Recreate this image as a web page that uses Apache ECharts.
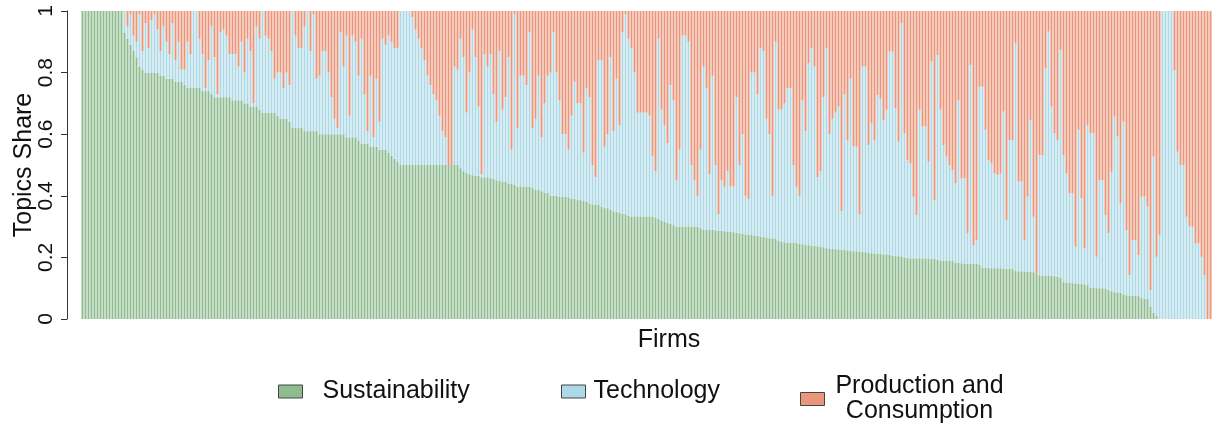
<!DOCTYPE html>
<html>
<head>
<meta charset="utf-8">
<script src="https://cdn.jsdelivr.net/npm/echarts@6/dist/echarts.min.js"></script>
<style>
  html, body { margin: 0; padding: 0; background: #fff; }
  #chart { width: 1213px; height: 423px; }
</style>
</head>
<body>
<div id="chart"></div>
<script>
// share of the Sustainability topic per firm (firms sorted by it)
const sustainability = [
  1,1,1,1,1,1,1,1,1,1,1,1,1,1,
  .93,.91,.89,.87,.85,.82,.81,.80,.80,.80,
  .80,.80,.79,.79,.78,.78,.78,.77,.77,.77,
  .76,.75,.75,.75,.75,.75,.74,.74,.74,.73,
  .72,.72,.72,.72,.72,.72,.71,.71,.71,.71,
  .70,.70,.69,.69,.69,.68,.67,.67,.67,.67,
  .67,.66,.65,.65,.65,.64,.62,.62,.62,
  .62,.61,.61,.61,.61,.61,.60,.60,.60,.60,
  .60,.60,.60,.60,.60,.59,.59,.59,.59,.58,
  .57,.57,.57,.56,.56,.56,.55,.55,.55,
  .54,.53,.52,.51,
  .50,.50,.50,.50,.50,.50,.50,.50,.50,.50,
  .50,.50,.50,.50,.50,.50,.50,.50,.50,.50,
  .49,.48,.475,.47,.467,.465,.465,.46,.46,.46,
  .457,.455,.45,.45,.445,.445,.44,.44,.435,.43,
  .43,.43,.43,.43,.425,.42,.42,.415,.41,.41,
  .40,.40,.40,.397,.397,.397,.395,.39,.39,.386,
  .386,.383,.38,.375,.372,.372,.37,.365,.36,.36,
  .355,.35,.348,.345,.342,.34,.335,.333,.333,.333,
  .333,.333,.333,.333,.333,.33,.325,.32,.315,.313,
  .31,.305,.30,.30,.30,.30,.30,.30,.30,.30,
  .295,.29,.29,.289,.289,.288,.287,.286,.285,.284,
  .283,.282,.28,.278,.277,.275,.274,.273,.27,.27,
  .268,.266,.264,.262,.262,.26,.255,.25,.249,.248,
  .248,.248,.247,.245,.243,.24,.24,.238,.237,.236,
  .235,.233,.23,.229,.228,.227,.226,.225,.224,.223,
  .222,.22,.22,.219,.218,.217,.215,.214,.213,.212,
  .211,.21,.21,.208,.205,.204,.204,.203,.2,.198,
  .197,.197,.197,.197,.197,.197,.196,.196,.195,.193,
  .19,.19,.19,.19,.188,.183,.182,.181,.18,.18,
  .18,.18,.179,.175,.167,.166,.166,.165,.165,.165,
  .165,.164,.163,.163,.162,.157,.155,.155,.154,.154,
  .153,.152,.148,.142,.141,.14,.14,.14,.139,.138,
  .135,.12,.118,.117,.116,.116,.115,.115,.113,.11,
  .102,.101,.1,.1,.1,.099,.095,.09,.087,.086,
  .085,.08,.077,.076,.075,.075,.074,.068,.066,.065,
  .04,.02,.01,0,0,0,0,0,0,0,
  0,0,0,0,0,0,0,0,0,0,0
];

// upper edge of the Technology block (sustainability + technology)
const sustainabilityPlusTechnology = [
  1,1,1,1,1,1,1,1,1,1,1,1,1,1,
  1,.95,.99,.92,.90,.99,.87,.96,.88,.97,
  .99,.94,.87,.95,.90,.86,.96,.84,.90,.81,
  .81,.90,.86,1,1,.91,.86,.75,.84,.95,
  .85,.73,.93,.94,.92,.86,.86,.86,.82,.90,
  .80,.91,.87,.70,.95,.91,1,.92,.91,.87,
  .78,.80,.80,.75,
  .80,.76,1,.92,.88,.88,.95,1,.87,.99,
  .78,.79,.87,.87,.80,.72,.65,.62,.93,.82,
  .92,.66,.92,.90,.79,.91,.73,.61,.79,.59,
  .78,.64,.91,.89,
  .92,.90,.88,.88,1,1,1,1,.98,.94,
  .91,.88,.84,.79,.76,.73,.71,.66,.61,.59,
  .50,.50,.82,.81,.91,.85,.67,.80,.94,.85,
  .69,.47,.86,.82,
  .86,.73,.64,.87,.68,.72,.85,.55,.99,.62,
  .79,.79,.76,.93,.62,.65,.79,.59,.70,.79,
  .80,.93,.80,.71,.60,.60,.55,.66,.77,.70,
  .70,.54,.75,.72,
  .50,.46,.84,.84,.56,.60,.85,.61,.78,.63,
  .93,.99,.91,.88,.80,.67,.67,.67,.67,.66,
  .53,.48,.91,.68,.63,.57,.76,.71,.45,.55,
  .92,.92,.90,.50,
  .45,.40,.55,.82,.75,.47,.79,.50,.34,.45,
  .43,.48,.43,.43,.72,.50,.60,.40,.39,.80,
  .80,.73,.88,.87,.65,.60,.40,.90,.68,.68,
  .70,.75,.75,.50,
  .43,.40,.71,.61,.83,.88,.82,.46,.48,.72,
  .88,.60,.65,.67,.69,
  .35,.73,.58,.78,.56,.56,.34,.82,.82,.565,
  .635,.58,.727,.716,.646,.679,.868,.868,.684,.576,
  .96,.603,.516,.505,.397,.338,.679,.625,.625,.511,
  .836,.386,.857,.679,.565,.527,.50,.484,.44,.711,
  .457,.457,.278,.825,.24,.256,.754,.754,.614,.516,
  .505,.473,.468,.473,.673,.322,.581,.581,.895,.446,
  .446,.256,.397,.646,.332,.148,.532,.532,.814,.933,
  .69,.603,.581,.873,.532,.473,.408,.408,.235,.614,
  .392,.229,.63,.603,.603,.202,.451,.451,.338,.278,
  .478,.657,.592,.375,.641,.289,.143,.256,.256,.208,
  .397,.397,.365,.094,.527,.202,.273,1,1,1,
  1,.808,.543,.50,.50,.332,.30,.30,.245,.245,
  .202,.143,0,0
];

const yTicks = [0, 0.2, 0.4, 0.6, 0.8, 1];
const topicNames = ["Sustainability", "Technology", "Production and Consumption"];
const topicColors = ["#8FBC8F", "#ADD8E6", "#E9967A"];

// shares for the stacked bars, from the two read edges
const firms = sustainability.map((_, i) => "Firm " + (i + 1));
const technology = sustainability.map((s, i) => +Math.max(0, sustainabilityPlusTechnology[i] - s).toFixed(3));
const production = sustainabilityPlusTechnology.map((c) => +Math.max(0, 1 - c).toFixed(3));

const FONT = "'Liberation Sans', Arial, Helvetica, sans-serif";

const legendBase = {
  orient: "horizontal",
  icon: "rect",
  padding: 0,
  itemWidth: 24,
  itemHeight: 13,
  selectedMode: false,
  itemStyle: { borderColor: "#444", borderWidth: 1 },
  textStyle: { fontSize: 25, color: "#111", fontFamily: FONT }
};

const myChart = echarts.init(document.getElementById("chart"), null, { renderer: "canvas" });

const option = {
  animation: false,
  grid: { left: 81, right: 1, top: 11, bottom: 104, outerBoundsMode: "none", containLabel: false },
  xAxis: {
    type: "category",
    data: firms,
    axisLine: { show: false },
    axisTick: { show: false },
    axisLabel: { show: false },
    name: "Firms",
    nameLocation: "middle",
    nameGap: 9,
    nameTextStyle: { fontSize: 25, color: "#111", fontFamily: FONT, padding: [0, 0, 0, 45] }
  },
  yAxis: {
    type: "value",
    min: yTicks[0],
    max: yTicks[yTicks.length - 1],
    interval: 0.2,
    offset: 14,
    axisLine: { show: true, lineStyle: { color: "#333", width: 1 } },
    axisTick: { show: true, length: 6, lineStyle: { color: "#333" } },
    splitLine: { show: false },
    axisLabel: { rotate: 90, fontSize: 21, color: "#111", fontFamily: FONT, margin: 10 },
    name: "Topics Share",
    nameLocation: "middle",
    nameRotate: 90,
    nameGap: 30,
    nameMoveOverlap: false,
    nameTextStyle: { fontSize: 25, color: "#111", fontFamily: FONT }
  },
  legend: [
    Object.assign({}, legendBase, {
      data: [topicNames[0]], left: 278, top: 379,
      textStyle: Object.assign({}, legendBase.textStyle, { padding: [0, 0, 0, 15] })
    }),
    Object.assign({}, legendBase, {
      data: [topicNames[1]], left: 561, top: 379,
      textStyle: Object.assign({}, legendBase.textStyle, { padding: [0, 0, 0, 3] })
    }),
    Object.assign({}, legendBase, {
      data: [topicNames[2]], left: 800, top: 374,
      formatter: "{a|Production and}\n{a|Consumption}",
      textStyle: Object.assign({}, legendBase.textStyle, {
        padding: [0, 0, 0, 3],
        rich: { a: { fontSize: 25, lineHeight: 25, width: 174, align: "center", color: "#111", fontFamily: FONT } }
      })
    })
  ],
  series: [
    { name: topicNames[0], data: sustainability },
    { name: topicNames[1], data: technology },
    { name: topicNames[2], data: production }
  ].map((s, k) => ({
    name: s.name,
    type: "bar",
    stack: "share",
    data: s.data,
    barCategoryGap: "33%",
    itemStyle: { color: topicColors[k] },
    emphasis: { disabled: true }
  }))
};

myChart.setOption(option);

window.onresize = function () {
  myChart.resize();
};
</script>
</body>
</html>
